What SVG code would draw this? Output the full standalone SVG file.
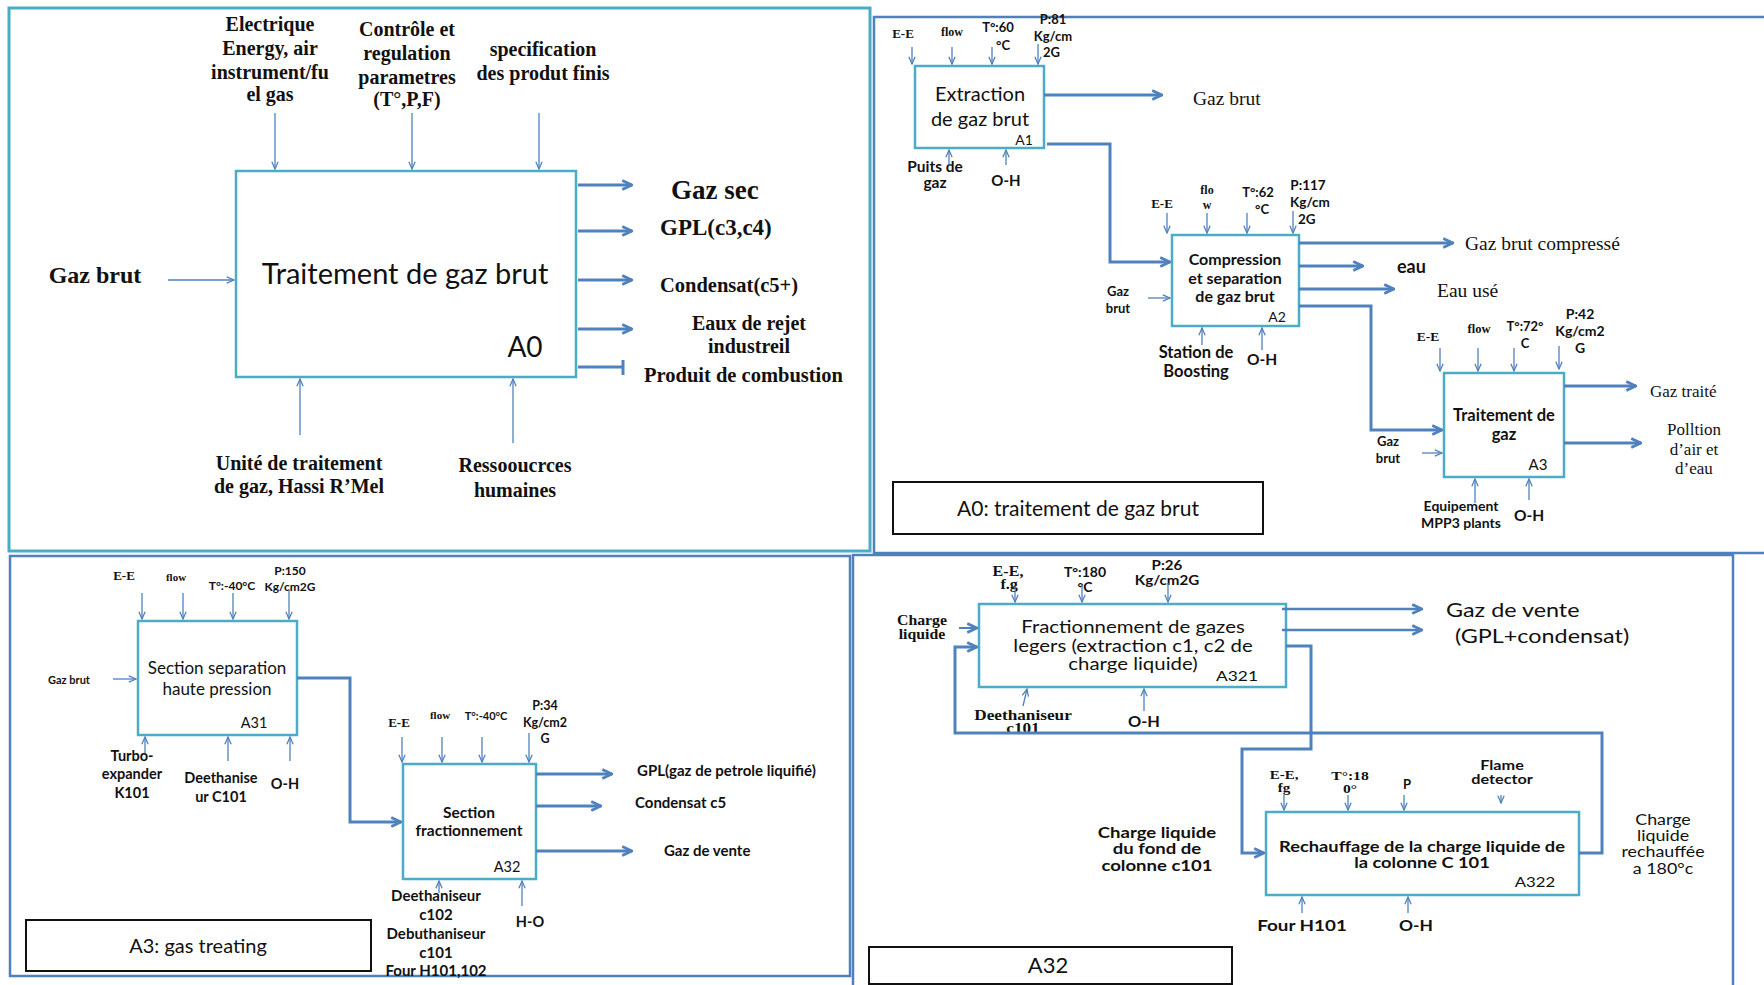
<svg xmlns="http://www.w3.org/2000/svg" width="1764" height="985" viewBox="0 0 1764 985">
<defs>
<style>
.frameC{fill:none;stroke:#4bacc6;stroke-width:3}
.frameB{fill:none;stroke:#4f81bd;stroke-width:2.5}
.box{fill:#fff;stroke:#4bacc6;stroke-width:2.5}
.cap{fill:#fff;stroke:#111;stroke-width:2}
.thin{fill:none;stroke:#4f81bd;stroke-width:1.3;marker-end:url(#ah)}
.thick{fill:none;stroke:#4f81bd;stroke-width:3;marker-end:url(#ahT)}
.wire{fill:none;stroke:#4f81bd;stroke-width:3}
text{fill:#111}
.s{font-family:Lato,"Liberation Sans",sans-serif}
.sb{font-family:Lato,"Liberation Sans",sans-serif;font-weight:bold}
.t{font-family:"Liberation Serif",serif}
.tb{font-family:"Liberation Serif",serif;font-weight:bold}
.m{text-anchor:middle}
</style>
<marker id="ah" viewBox="0 0 10 10" refX="9" refY="5" markerWidth="9" markerHeight="9" markerUnits="userSpaceOnUse" orient="auto">
<path d="M1,1.5 L9,5 L1,8.5" fill="none" stroke="#4f81bd" stroke-width="1.4"/>
</marker>
<marker id="ahT" viewBox="0 0 10 10" refX="9" refY="5" markerWidth="13" markerHeight="13" markerUnits="userSpaceOnUse" orient="auto">
<path d="M1.5,1.5 L9,5 L1.5,8.5" fill="none" stroke="#4f81bd" stroke-width="2.2"/>
</marker>
</defs>
<rect width="1764" height="985" fill="#fff"/>

<!-- panel frames -->
<g id="frames">
<rect class="frameC" x="9" y="8" width="861" height="543"/>
<rect class="frameB" x="874" y="17" width="900" height="536"/>
<rect class="frameB" x="10" y="556" width="840" height="420"/>
<rect class="frameB" x="853" y="555" width="880" height="440"/>
</g>

<!-- ===== A0 context ===== -->
<g id="A0">
<rect class="box" x="236" y="171" width="340" height="206"/>
<text class="s m" x="405" y="284" font-size="29">Traitement de gaz brut</text>
<text class="s m" x="525" y="357" font-size="28">A0</text>
</g>
<g id="A0-labels">
<text class="tb m" x="95" y="283" font-size="24">Gaz brut</text>
<text class="tb m" font-size="20"><tspan x="270" y="31">Electrique</tspan><tspan x="270" y="55">Energy, air</tspan><tspan x="270" y="79">instrument/fu</tspan><tspan x="270" y="101">el gas</tspan></text>
<text class="tb m" font-size="20"><tspan x="407" y="36">Contrôle et</tspan><tspan x="407" y="60">regulation</tspan><tspan x="407" y="84">parametres</tspan><tspan x="407" y="106">(T°,P,F)</tspan></text>
<text class="tb m" font-size="20"><tspan x="543" y="56">specification</tspan><tspan x="543" y="80">des produt finis</tspan></text>
<text class="tb" x="671" y="199" font-size="27">Gaz sec</text>
<text class="tb" x="660" y="235" font-size="23">GPL(c3,c4)</text>
<text class="tb" x="660" y="292" font-size="20.5">Condensat(c5+)</text>
<text class="tb m" font-size="20"><tspan x="749" y="330">Eaux de rejet</tspan><tspan x="749" y="353">industreil</tspan></text>
<text class="tb" x="644" y="382" font-size="20.5">Produit de combustion</text>
<text class="tb m" font-size="20"><tspan x="299" y="470">Unité de traitement</tspan><tspan x="299" y="493">de gaz, Hassi R’Mel</tspan></text>
<text class="tb m" font-size="20"><tspan x="515" y="472">Ressooucrces</tspan><tspan x="515" y="497">humaines</tspan></text>
</g>

<!-- ===== A0 decomposition: A1, A2, A3 ===== -->
<g id="A1">
<rect class="box" x="915" y="66" width="129" height="82"/>
<text class="s m" font-size="20"><tspan x="980" y="101">Extraction</tspan><tspan x="980" y="126">de gaz brut</tspan></text>
<text class="s m" x="1024" y="145" font-size="14">A1</text>
</g>
<g id="A1-labels">
<text class="tb m" x="903" y="38" font-size="13">E-E</text>
<text class="tb m" x="952" y="36" font-size="12">flow</text>
<text class="sb m" font-size="13"><tspan x="998" y="32">T°:60</tspan><tspan x="1003" y="50">°C</tspan></text>
<text class="sb m" font-size="13"><tspan x="1053" y="24">P:81</tspan><tspan x="1053" y="41">Kg/cm</tspan></text>
<text class="sb" x="1043" y="57" font-size="13">2G</text>
<text class="t" x="1193" y="105" font-size="19.5">Gaz brut</text>
<text class="sb m" font-size="15.5"><tspan x="935" y="172">Puits de</tspan><tspan x="935" y="188">gaz</tspan></text>
<text class="sb m" x="1006" y="186" font-size="15">O-H</text>
</g>

<g id="A2">
<rect class="box" x="1172" y="235" width="127" height="91"/>
<text class="sb m" font-size="16"><tspan x="1235" y="265">Compression</tspan><tspan x="1235" y="284">et separation</tspan><tspan x="1235" y="302">de gaz brut</tspan></text>
<text class="s m" x="1277" y="322" font-size="14">A2</text>
</g>
<g id="A2-labels">
<text class="tb m" x="1162" y="208" font-size="13">E-E</text>
<text class="tb m" font-size="12"><tspan x="1207" y="194">flo</tspan><tspan x="1207" y="209">w</tspan></text>
<text class="sb m" font-size="13"><tspan x="1258" y="197">T°:62</tspan><tspan x="1262" y="214">°C</tspan></text>
<text class="sb m" font-size="13.5"><tspan x="1308" y="190">P:117</tspan><tspan x="1310" y="207">Kg/cm</tspan></text>
<text class="sb" x="1298" y="224" font-size="13.5">2G</text>
<text class="sb m" font-size="13"><tspan x="1118" y="296">Gaz</tspan><tspan x="1118" y="313">brut</tspan></text>
<text class="t" x="1465" y="250" font-size="19.5">Gaz brut compressé</text>
<text class="sb" x="1397" y="273" font-size="18">eau</text>
<text class="t" x="1437" y="297" font-size="19.5">Eau usé</text>
<text class="sb m" font-size="16.5"><tspan x="1196" y="358">Station de</tspan><tspan x="1196" y="377">Boosting</tspan></text>
<text class="sb m" x="1262" y="365" font-size="15.5">O-H</text>
</g>

<g id="A3">
<rect class="box" x="1444" y="373" width="120" height="104"/>
<text class="sb m" font-size="16.5"><tspan x="1504" y="421">Traitement de</tspan><tspan x="1504" y="440">gaz</tspan></text>
<text class="s m" x="1538" y="470" font-size="15">A3</text>
</g>
<g id="A3-labels">
<text class="tb m" x="1428" y="341" font-size="13.5">E-E</text>
<text class="tb m" x="1479" y="333" font-size="12.5">flow</text>
<text class="sb m" font-size="13"><tspan x="1525" y="331">T°:72°</tspan><tspan x="1525" y="348">C</tspan></text>
<text class="sb m" font-size="14"><tspan x="1580" y="319">P:42</tspan><tspan x="1580" y="336">Kg/cm2</tspan><tspan x="1580" y="353">G</tspan></text>
<text class="sb m" font-size="13"><tspan x="1388" y="446">Gaz</tspan><tspan x="1388" y="463">brut</tspan></text>
<text class="t" x="1650" y="397" font-size="17">Gaz traité</text>
<text class="t m" font-size="17"><tspan x="1694" y="435">Polltion</tspan><tspan x="1694" y="455">d’air et</tspan><tspan x="1694" y="474">d’eau</tspan></text>
<text class="sb m" font-size="14"><tspan x="1461" y="511">Equipement</tspan><tspan x="1461" y="528">MPP3 plants</tspan></text>
<text class="sb m" x="1529" y="521" font-size="15.5">O-H</text>
</g>

<g id="caption-A0">
<rect class="cap" x="893" y="482" width="370" height="52"/>
<text class="s m" x="1078" y="516" font-size="21">A0: traitement de gaz brut</text>
</g>

<!-- ===== A3 decomposition: A31, A32 ===== -->
<g id="A31">
<rect class="box" x="138" y="621" width="159" height="114"/>
<text class="s m" font-size="17"><tspan x="217" y="674">Section separation</tspan><tspan x="217" y="695">haute pression</tspan></text>
<text class="s m" x="254" y="728" font-size="14.5">A31</text>
</g>
<g id="A31-labels">
<text class="tb m" x="124" y="580" font-size="13">E-E</text>
<text class="tb m" x="176" y="581" font-size="11">flow</text>
<text class="sb m" x="232" y="590" font-size="12">T°:-40°C</text>
<text class="sb m" font-size="12"><tspan x="290" y="575">P:150</tspan><tspan x="290" y="591">Kg/cm2G</tspan></text>
<text class="sb m" x="69" y="684" font-size="11">Gaz brut</text>
<text class="sb m" font-size="14.5"><tspan x="132" y="761">Turbo-</tspan><tspan x="132" y="779">expander</tspan><tspan x="132" y="798">K101</tspan></text>
<text class="sb m" font-size="14.5"><tspan x="221" y="783">Deethanise</tspan><tspan x="221" y="802">ur C101</tspan></text>
<text class="sb m" x="285" y="789" font-size="14.5">O-H</text>
</g>

<g id="A32">
<rect class="box" x="403" y="764" width="133" height="115"/>
<text class="sb m" font-size="15.5"><tspan x="469" y="818">Section</tspan><tspan x="469" y="836">fractionnement</tspan></text>
<text class="s m" x="507" y="872" font-size="14.5">A32</text>
</g>
<g id="A32-labels">
<text class="tb m" x="399" y="727" font-size="13">E-E</text>
<text class="tb m" x="440" y="719" font-size="11">flow</text>
<text class="sb m" x="486" y="720" font-size="11">T°:-40°C</text>
<text class="sb m" font-size="12.5"><tspan x="545" y="710">P:34</tspan><tspan x="545" y="727">Kg/cm2</tspan><tspan x="545" y="743">G</tspan></text>
<text class="sb" x="637" y="776" font-size="15">GPL(gaz de petrole liquifié)</text>
<text class="sb" x="635" y="808" font-size="15">Condensat c5</text>
<text class="sb" x="664" y="856" font-size="15">Gaz de vente</text>
<text class="sb m" font-size="15"><tspan x="436" y="901">Deethaniseur</tspan><tspan x="436" y="920">c102</tspan><tspan x="436" y="939">Debuthaniseur</tspan><tspan x="436" y="958">c101</tspan><tspan x="436" y="976">Four H101,102</tspan></text>
<text class="sb m" x="530" y="927" font-size="14.5">H-O</text>
</g>

<g id="caption-A3">
<rect class="cap" x="26" y="920" width="345" height="51"/>
<text class="s m" x="198" y="953" font-size="20">A3: gas treating</text>
</g>

<!-- ===== A32 decomposition: A321, A322 (wide lettering) ===== -->
<g id="A321">
<rect class="box" x="979" y="604" width="307" height="83"/>
<text class="s m" font-size="17" transform="translate(1133 0) scale(1.2 1)"><tspan x="0" y="633">Fractionnement  de gazes</tspan><tspan x="0" y="652">legers (extraction c1, c2 de</tspan><tspan x="0" y="670">charge liquide)</tspan></text>
<text class="s m" font-size="14" transform="translate(1237 0) scale(1.24 1)" x="0" y="681">A321</text>
</g>
<g id="A321-labels">
<text class="tb m" font-size="14" transform="translate(1008 0) scale(1.15 1)"><tspan x="0" y="576">E-E,</tspan><tspan x="1" y="589">f.g</tspan></text>
<text class="sb m" font-size="14"><tspan x="1085" y="577">T°:180</tspan><tspan x="1085" y="592">°C</tspan></text>
<text class="sb m" font-size="14" transform="translate(1167 0) scale(1.08 1)"><tspan x="0" y="570">P:26</tspan><tspan x="0" y="585">Kg/cm2G</tspan></text>
<text class="tb m" font-size="14" transform="translate(922 0) scale(1.13 1)"><tspan x="0" y="625">Charge</tspan><tspan x="0" y="639">liquide</tspan></text>
<text class="s" font-size="19" transform="translate(1446 0) scale(1.23 1)" x="0" y="617">Gaz de vente</text>
<text class="s" font-size="19" transform="translate(1455 0) scale(1.23 1)" x="0" y="643">(GPL+condensat)</text>
<text class="tb m" font-size="14" transform="translate(1023 0) scale(1.23 1)"><tspan x="0" y="720">Deethaniseur</tspan><tspan x="0" y="733">c101</tspan></text>
<text class="sb m" font-size="14.5" transform="translate(1144 0) scale(1.13 1)" x="0" y="727">O-H</text>
</g>

<g id="A322">
<rect class="box" x="1266" y="812" width="313" height="83"/>
<text class="sb m" font-size="15" transform="translate(1422 0) scale(1.22 1)"><tspan x="0" y="852">Rechauffage de la charge liquide de</tspan><tspan x="0" y="868">la colonne C 101</tspan></text>
<text class="s m" font-size="14" transform="translate(1535 0) scale(1.2 1)" x="0" y="887">A322</text>
</g>
<g id="A322-labels">
<text class="tb m" font-size="12.5" transform="translate(1284 0) scale(1.2 1)"><tspan x="0" y="779">E-E,</tspan><tspan x="0" y="792">fg</tspan></text>
<text class="tb m" font-size="13" transform="translate(1350 0) scale(1.2 1)"><tspan x="0" y="780">T°:18</tspan><tspan x="0" y="793">0°</tspan></text>
<text class="sb m" x="1407" y="789" font-size="13">P</text>
<text class="sb m" font-size="12.5" transform="translate(1502 0) scale(1.3 1)"><tspan x="0" y="770">Flame</tspan><tspan x="0" y="784">detector</tspan></text>
<text class="sb m" font-size="14.5" transform="translate(1157 0) scale(1.28 1)"><tspan x="0" y="838">Charge liquide</tspan><tspan x="0" y="854">du fond de</tspan><tspan x="0" y="871">colonne c101</tspan></text>
<text class="s m" font-size="14.5" transform="translate(1663 0) scale(1.23 1)"><tspan x="0" y="825">Charge</tspan><tspan x="0" y="841">liquide</tspan><tspan x="0" y="857">rechauffée</tspan><tspan x="0" y="874">a 180°c</tspan></text>
<text class="sb m" font-size="14.5" transform="translate(1302 0) scale(1.3 1)" x="0" y="931">Four  H101</text>
<text class="sb m" font-size="14.5" transform="translate(1416 0) scale(1.2 1)" x="0" y="931">O-H</text>
</g>

<g id="caption-A32">
<rect class="cap" x="869" y="947" width="363" height="37"/>
<text class="s m" x="1048" y="973" font-size="22">A32</text>
</g>

<!-- ===== connectors ===== -->
<g id="connectors">
<!-- A0 -->
<path class="thin" d="M168,280 H234"/>
<path class="thin" d="M275,113 V169"/>
<path class="thin" d="M412,113 V169"/>
<path class="thin" d="M539,113 V169"/>
<path class="thin" d="M300,435 V379"/>
<path class="thin" d="M513,443 V379"/>
<path class="thick" d="M578,185 H632"/>
<path class="thick" d="M578,231 H632"/>
<path class="thick" d="M578,280 H632"/>
<path class="thick" d="M578,329 H632"/>
<path class="wire" d="M578,367 H623 M623,360 V375"/>
<!-- A1 -->
<path class="thin" d="M912,47 V64"/>
<path class="thin" d="M952,47 V64"/>
<path class="thin" d="M992,47 V64"/>
<path class="thin" d="M1038,44 V64"/>
<path class="thin" d="M949,165 V150"/>
<path class="thin" d="M1006,165 V150"/>
<path class="thick" d="M1044,95 H1162"/>
<path class="thick" d="M1047,144 H1110 V262 H1170"/>
<!-- A2 -->
<path class="thin" d="M1167,213 V233"/>
<path class="thin" d="M1207,213 V233"/>
<path class="thin" d="M1247,213 V233"/>
<path class="thin" d="M1293,211 V233"/>
<path class="thin" d="M1148,298 H1170"/>
<path class="thin" d="M1202,345 V328"/>
<path class="thin" d="M1262,350 V328"/>
<path class="thick" d="M1299,243 H1453"/>
<path class="thick" d="M1299,266 H1363"/>
<path class="thick" d="M1299,289 H1394"/>
<path class="thick" d="M1299,306 H1371 V430 H1442"/>
<!-- A3 -->
<path class="thin" d="M1440,348 V371"/>
<path class="thin" d="M1478,348 V371"/>
<path class="thin" d="M1514,348 V371"/>
<path class="thin" d="M1559,346 V369"/>
<path class="thin" d="M1422,453 H1442"/>
<path class="thin" d="M1475,503 V479"/>
<path class="thin" d="M1529,500 V479"/>
<path class="thick" d="M1564,386 H1636"/>
<path class="thick" d="M1564,443 H1641"/>
<!-- A31 -->
<path class="thin" d="M142,593 V619"/>
<path class="thin" d="M183,593 V619"/>
<path class="thin" d="M233,593 V619"/>
<path class="thin" d="M289,589 V619"/>
<path class="thin" d="M113,679 H136"/>
<path class="thin" d="M145,753 V737"/>
<path class="thin" d="M228,761 V737"/>
<path class="thin" d="M290,761 V737"/>
<path class="thick" d="M297,678 H350 V822 H401"/>
<!-- A32 -->
<path class="thin" d="M402,737 V762"/>
<path class="thin" d="M442,737 V762"/>
<path class="thin" d="M482,737 V762"/>
<path class="thin" d="M529,733 V762"/>
<path class="thin" d="M439,893 V881"/>
<path class="thin" d="M522,906 V881"/>
<path class="thick" d="M536,774 H612"/>
<path class="thick" d="M536,806 H601"/>
<path class="thick" d="M536,851 H632"/>
<!-- A321 -->
<path class="thin" d="M1015,587 V602"/>
<path class="thin" d="M1082,585 V602"/>
<path class="thin" d="M1168,583 V602"/>
<path class="thick" d="M959,628 H977" style="stroke-width:2"/>
<path class="thin" d="M1023,706 L1027,689"/>
<path class="thin" d="M1144,711 V689"/>
<path class="thick" d="M1282,609 H1422" style="stroke-width:2.5"/>
<path class="thick" d="M1282,630 H1422" style="stroke-width:2.5"/>
<path class="thick" d="M1286,646 H1311 V749 H1242 V853 H1264"/>
<path class="thick" d="M1579,853 H1602 V733 H955 V647 H977"/>
<!-- A322 -->
<path class="thin" d="M1284,795 V810"/>
<path class="thin" d="M1348,795 V810"/>
<path class="thin" d="M1404,795 V810"/>
<path class="thin" d="M1501,795 V803"/>
<path class="thin" d="M1302,913 V897"/>
<path class="thin" d="M1408,913 V897"/>
</g>
</svg>
